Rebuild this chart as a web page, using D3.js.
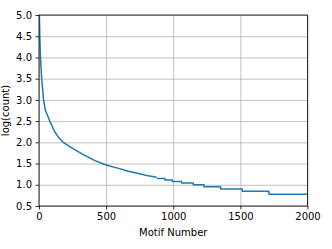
<!DOCTYPE html>
<meta charset="utf-8">
<style>
body { margin: 0; background: #fff; }
svg { font-family: "DejaVu Sans", sans-serif; }
.tick text { font-size: 10px; fill: #000; }
.grid line { stroke: #b0b0b0; stroke-width: 0.8px; }
.grid path { display: none; }
.line { fill: none; stroke: #1f77b4; stroke-width: 1.5px; stroke-linejoin: round; }
</style>
<body>
<script src="https://d3js.org/d3.v7.min.js"></script>
<script>

// head of the curve (smooth part), motif rank vs log10(count)
var headRank = [0, 3, 6, 11, 20, 34, 47, 80, 117, 150, 180, 230, 266, 330, 417, 480, 520, 600, 665, 750, 814, 877];
var headLog  = [5.35, 5.0, 4.5, 4.0, 3.5, 3.0, 2.76, 2.5, 2.25, 2.1, 2.0, 1.9, 1.83, 1.71, 1.57, 1.49, 1.45, 1.38, 1.32, 1.26, 1.21, 1.176];

// tail of the curve: rank where the count drops, and the new count
var tailRank  = [877, 939, 993, 1063, 1149, 1229, 1353, 1514, 1713, 2000];
var tailCount = [14, 13, 12, 11, 10, 9, 8, 7, 6, 6];

var xTicks = [0, 500, 1000, 1500, 2000];
var yTicks = [0.5, 1.0, 1.5, 2.0, 2.5, 3.0, 3.5, 4.0, 4.5, 5.0];

var margin = {top: 15, right: 24.5, bottom: 43, left: 39},
    width = 332 - margin.left - margin.right,
    height = 249 - margin.top - margin.bottom;

var x = d3.scaleLinear().domain([0, 2000]).range([0, width]);
var y = d3.scaleLinear().domain([0.5, 5.0]).range([height, 0]);

var svg = d3.select("body").append("svg")
    .attr("width", 332)
    .attr("height", 249)
  .append("g")
    .attr("transform", "translate(" + margin.left + "," + margin.top + ")");

svg.append("defs").append("clipPath").attr("id", "clip")
  .append("rect").attr("width", width).attr("height", height);

// grid
svg.append("g").attr("class", "grid")
    .attr("transform", "translate(0," + height + ")")
    .call(d3.axisBottom(x).tickValues(xTicks).tickSize(-height).tickFormat(""));
svg.append("g").attr("class", "grid")
    .call(d3.axisLeft(y).tickValues(yTicks).tickSize(-width).tickFormat(""));

var head = headRank.map(function(r, i) { return [r, headLog[i]]; });
var tail = tailRank.map(function(r, i) { return [r, Math.log10(tailCount[i])]; });

var line = d3.line()
    .x(function(d) { return x(d[0]); })
    .y(function(d) { return y(d[1]); });

var plot = svg.append("g").attr("clip-path", "url(#clip)");
plot.append("path").datum(head).attr("class", "line").attr("d", line);
plot.append("path").datum(tail).attr("class", "line")
    .attr("d", line.curve(d3.curveStepAfter));

// frame
svg.append("rect")
    .attr("width", width).attr("height", height)
    .attr("fill", "none").attr("stroke", "#000").attr("stroke-width", 0.8);

// axes
var xAxis = svg.append("g")
    .attr("transform", "translate(0," + height + ")")
    .call(d3.axisBottom(x).tickValues(xTicks).tickSize(3.5).tickPadding(3.5).tickFormat(d3.format("d")));
var yAxis = svg.append("g")
    .call(d3.axisLeft(y).tickValues(yTicks).tickSize(3.5).tickPadding(3.5).tickFormat(d3.format(".1f")));
[xAxis, yAxis].forEach(function(a) {
  a.select(".domain").remove();
  a.selectAll(".tick line").attr("stroke", "#000").attr("stroke-width", 0.8);
  a.attr("font-family", null).attr("font-size", null);
});

// labels
svg.append("text")
    .attr("x", width / 2).attr("y", height + 30)
    .attr("text-anchor", "middle").attr("font-size", 10)
    .text("Motif Number");
svg.append("text")
    .attr("transform", "translate(-30," + height / 2 + ") rotate(-90)")
    .attr("text-anchor", "middle").attr("font-size", 10)
    .text("log(count)");

</script>
</body>
